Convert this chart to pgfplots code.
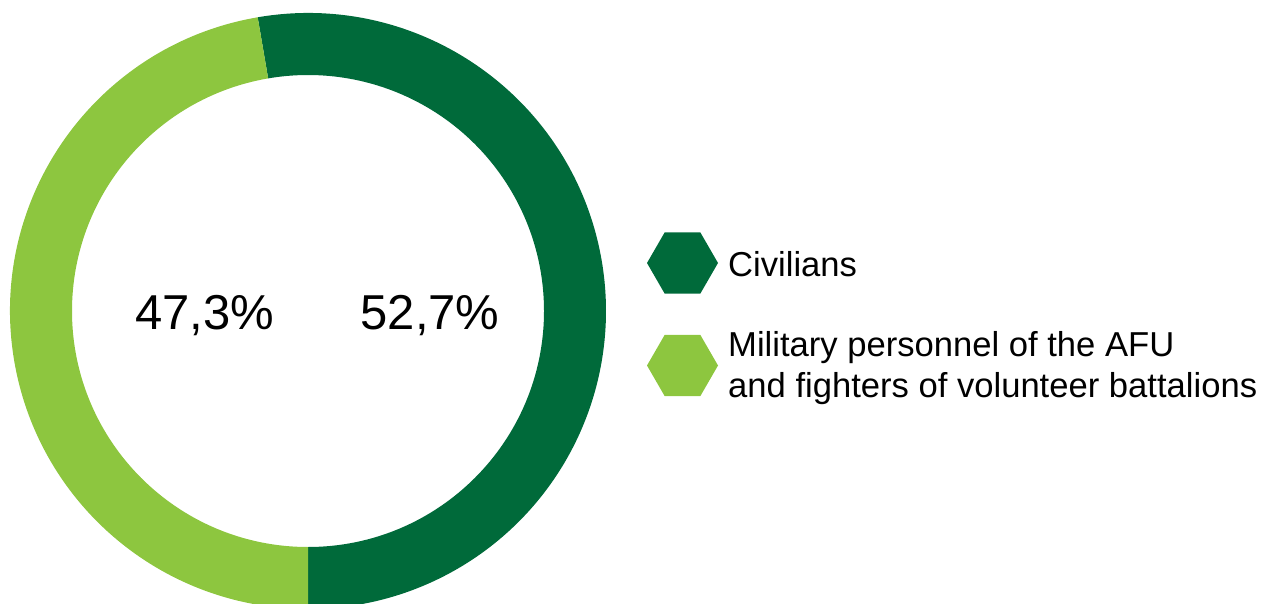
\documentclass[border=0pt]{standalone}
\usepackage{pgfplots}
\pgfplotsset{compat=1.18}
\usepackage{pgfplotstable}
\usetikzlibrary{shapes.geometric}
\usepackage{fontspec}
\setmainfont{Liberation Sans}
\definecolor{darkg}{HTML}{006A3A}
\definecolor{lightg}{HTML}{8DC63F}
\pgfplotstableread{
cat value
Civilians 52.7
Military 47.3
}\shares
\begin{document}
\begin{tikzpicture}
\useasboundingbox (0,0) rectangle (1282pt,603pt);
\clip (0,0) rectangle (1282pt,603pt);
\pgfplotstablegetelem{0}{value}\of\shares \let\civ\pgfplotsretval
\pgfmathsetmacro{\civstart}{-90+3.6*\civ}
\begin{axis}[
  at={(0,0)}, anchor=south west,
  scale only axis, width=1282pt, height=603pt,
  xmin=0, xmax=1282, ymin=0, ymax=603,
  hide axis, clip=true,
]
% donut: centre (308,292), outer radius 298, inner radius 236
\fill[darkg] (axis cs:308,292) ++(\civstart:298pt) arc[start angle=\civstart, end angle=-90, radius=298pt]
  -- ++(0pt,62pt) arc[start angle=-90, end angle=\civstart, radius=236pt] -- cycle;
\fill[lightg] (axis cs:308,292) ++(\civstart:298pt) arc[start angle=\civstart, end angle=270, radius=298pt]
  -- ++(0pt,62pt) arc[start angle=270, end angle=\civstart, radius=236pt] -- cycle;
\node[font=\fontsize{49}{56}\selectfont] at (axis cs:204.5,287) {47,3\%};
\node[font=\fontsize{49}{56}\selectfont] at (axis cs:430,287) {52,7\%};
% legend
\node[regular polygon, regular polygon sides=6, fill=darkg, minimum size=71pt, inner sep=0pt] at (axis cs:682.5,340) {};
\node[regular polygon, regular polygon sides=6, fill=lightg, minimum size=71pt, inner sep=0pt] at (axis cs:682.5,237.5) {};
\node[anchor=base west, inner sep=0pt, font=\fontsize{34.6}{40}\selectfont] at (axis cs:728,326) {Civilians};
\node[anchor=base west, inner sep=0pt, font=\fontsize{34.6}{40}\selectfont] at (axis cs:728,247) {Military personnel of the AFU};
\node[anchor=base west, inner sep=0pt, font=\fontsize{34.6}{40}\selectfont] at (axis cs:728,206) {and fighters of volunteer battalions};
\end{axis}
\end{tikzpicture}
\end{document}
